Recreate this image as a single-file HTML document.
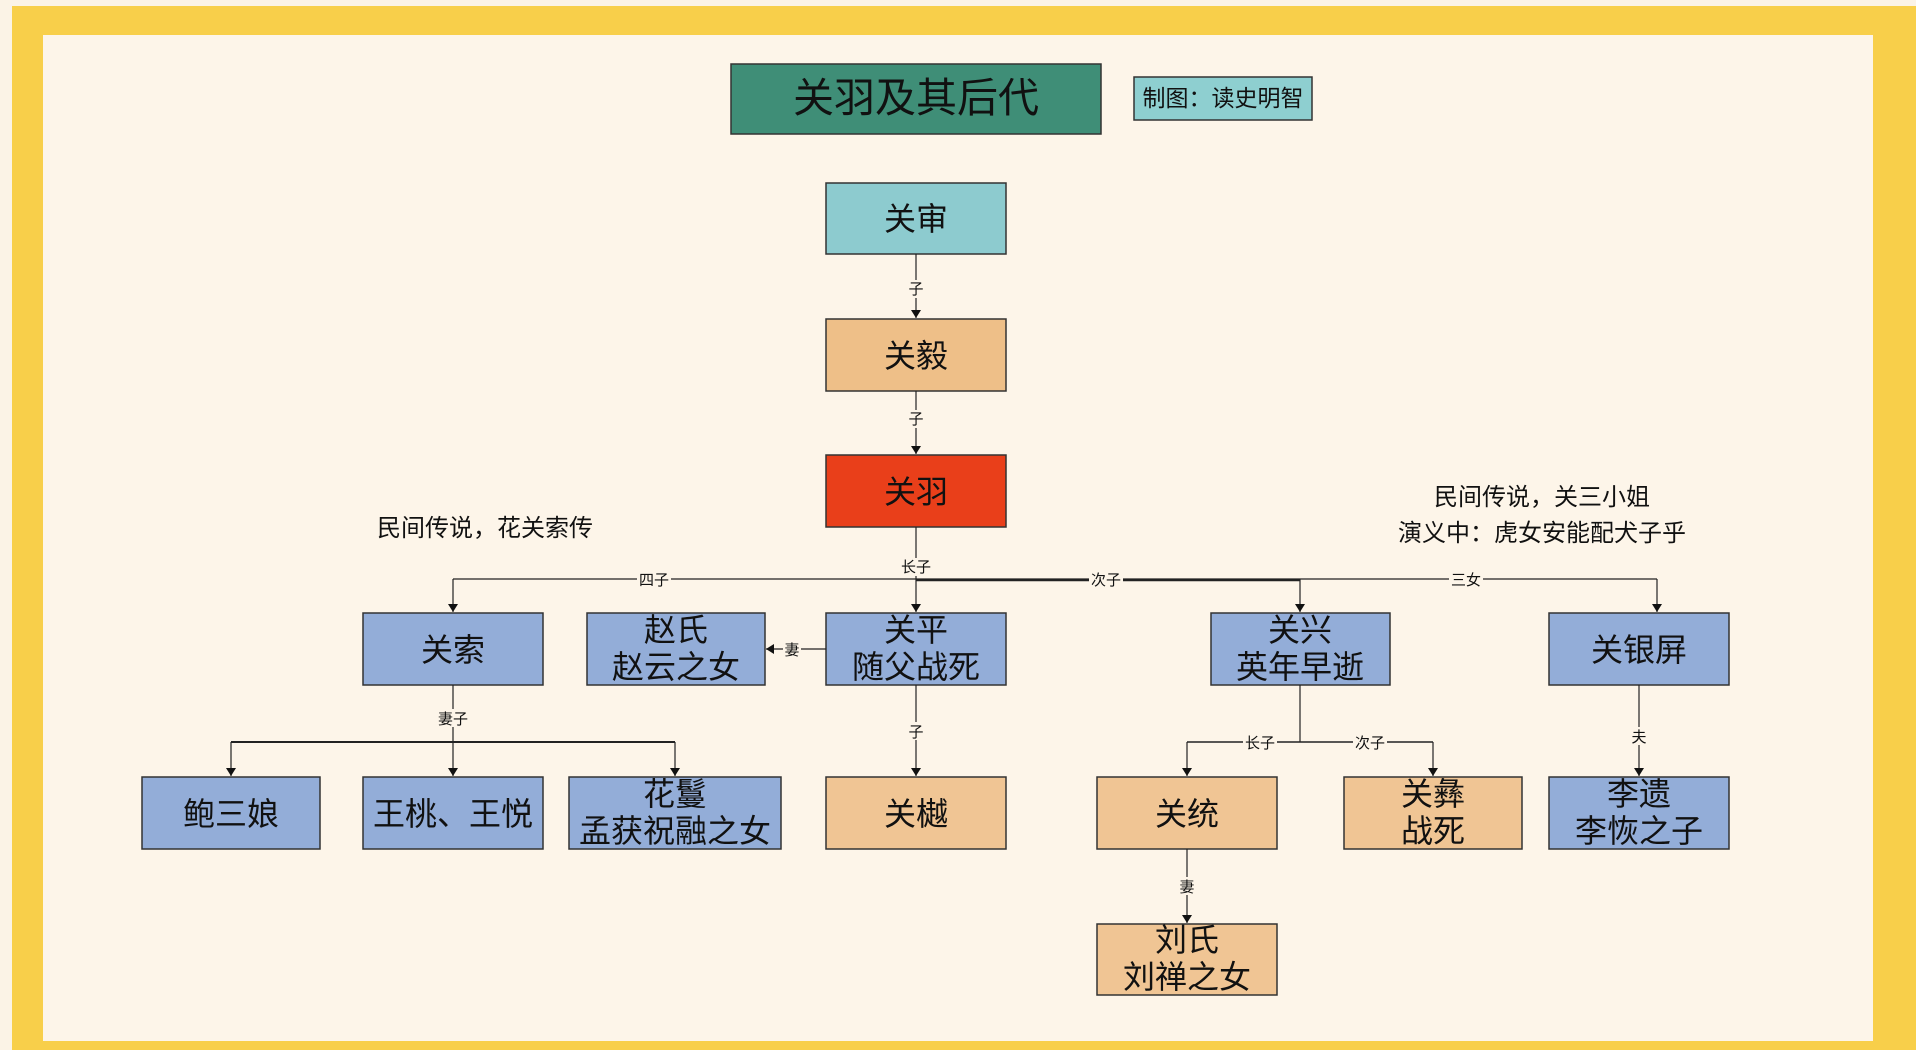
<!DOCTYPE html>
<html><head><meta charset="utf-8"><style>
html,body{margin:0;padding:0;background:#FBF3E6;}
svg{display:block;font-family:"Liberation Sans","Noto Sans CJK SC",sans-serif;}
</style></head><body>
<svg width="1916" height="1050" viewBox="0 0 1916 1050" xmlns="http://www.w3.org/2000/svg">
<defs><marker id="a" markerWidth="8" markerHeight="10" refX="8" refY="5" orient="auto" markerUnits="userSpaceOnUse"><path d="M0,0 L8,5 L0,10 Z" fill="#111"/></marker></defs>
<rect x="0" y="0" width="1916" height="1050" fill="#F8CF4A"/>
<rect x="0" y="0" width="1916" height="6" fill="#FBF3E6"/>
<rect x="0" y="0" width="12" height="1050" fill="#FBF3E6"/>
<rect x="43" y="35" width="1830" height="1006" fill="#FDF5E9"/>
<g stroke="#333" stroke-width="1.5">
<rect x="731" y="64" width="370" height="70" fill="#3F8E77"/>
<rect x="1134" y="77" width="178" height="43" fill="#8ECFD0"/>
<rect x="826" y="183" width="180" height="71" fill="#8DCBCF"/>
<rect x="826" y="319" width="180" height="72" fill="#EEBF88"/>
<rect x="826" y="455" width="180" height="72" fill="#E93F1A"/>
<g fill="#93ADD8">
<rect x="363" y="613" width="180" height="72"/><rect x="587" y="613" width="178" height="72"/>
<rect x="826" y="613" width="180" height="72"/><rect x="1211" y="613" width="179" height="72"/>
<rect x="1549" y="613" width="180" height="72"/>
<rect x="142" y="777" width="178" height="72"/><rect x="363" y="777" width="180" height="72"/>
<rect x="569" y="777" width="212" height="72"/><rect x="1549" y="777" width="180" height="72"/>
</g>
<g fill="#F0C594">
<rect x="826" y="777" width="180" height="72"/><rect x="1097" y="777" width="180" height="72"/>
<rect x="1344" y="777" width="178" height="72"/><rect x="1097" y="924" width="180" height="71"/>
</g>
</g>
<g stroke="#222" stroke-width="1.2" fill="none">
<line x1="916" y1="254" x2="916" y2="318" marker-end="url(#a)"/>
<line x1="916" y1="391" x2="916" y2="454" marker-end="url(#a)"/>
<line x1="916" y1="527" x2="916" y2="612" marker-end="url(#a)"/>
<line x1="453" y1="579" x2="1657" y2="579"/>
<line x1="916" y1="580" x2="1300" y2="580" stroke-width="2.5"/>
<line x1="453" y1="579" x2="453" y2="612" marker-end="url(#a)"/>
<line x1="1300" y1="579" x2="1300" y2="612" marker-end="url(#a)"/>
<line x1="1657" y1="579" x2="1657" y2="612" marker-end="url(#a)"/>
<line x1="826" y1="649" x2="766" y2="649" marker-end="url(#a)"/>
<line x1="453" y1="685" x2="453" y2="776" marker-end="url(#a)"/>
<line x1="231" y1="742" x2="675" y2="742" stroke-width="2"/>
<line x1="231" y1="742" x2="231" y2="776" marker-end="url(#a)"/>
<line x1="675" y1="742" x2="675" y2="776" marker-end="url(#a)"/>
<line x1="916" y1="685" x2="916" y2="776" marker-end="url(#a)"/>
<line x1="1300" y1="685" x2="1300" y2="742"/>
<line x1="1187" y1="742" x2="1433" y2="742" stroke-width="1.5"/>
<line x1="1187" y1="742" x2="1187" y2="776" marker-end="url(#a)"/>
<line x1="1433" y1="742" x2="1433" y2="776" marker-end="url(#a)"/>
<line x1="1639" y1="685" x2="1639" y2="776" marker-end="url(#a)"/>
<line x1="1187" y1="849" x2="1187" y2="923" marker-end="url(#a)"/>
</g>
<g font-size="15" fill="#111" text-anchor="middle">
<g fill="#FDF5E9" stroke="none">
<rect x="906" y="280" width="20" height="18"/><rect x="906" y="410" width="20" height="18"/>
<rect x="899" y="558" width="34" height="18"/><rect x="637" y="570" width="34" height="18"/>
<rect x="1089" y="570" width="34" height="18"/><rect x="1449" y="570" width="34" height="18"/>
<rect x="783" y="640" width="18" height="18"/><rect x="436" y="709" width="34" height="18"/>
<rect x="906" y="722" width="20" height="18"/><rect x="1243" y="733" width="34" height="18"/>
<rect x="1353" y="733" width="34" height="18"/><rect x="1630" y="727" width="18" height="18"/>
<rect x="1178" y="877" width="18" height="18"/>
</g>
<text x="916" y="294">子</text><text x="916" y="424">子</text>
<text x="916" y="572">长子</text><text x="654" y="585">四子</text>
<text x="1106" y="585">次子</text><text x="1466" y="585">三女</text>
<text x="792" y="655">妻</text><text x="453" y="724">妻子</text>
<text x="916" y="737">子</text><text x="1260" y="748">长子</text>
<text x="1370" y="748">次子</text><text x="1639" y="742">夫</text>
<text x="1187" y="892">妻</text>
</g>
<g fill="#111" text-anchor="middle" font-size="32">
<text x="916" y="112" font-size="41">关羽及其后代</text>
<text x="1223" y="106" font-size="23">制图：读史明智</text>
<text x="916" y="230">关审</text><text x="916" y="367">关毅</text>
<text x="916" y="503">关羽</text>
<text x="453" y="661">关索</text>
<text x="676" y="641">赵氏</text><text x="676" y="678">赵云之女</text>
<text x="916" y="641">关平</text><text x="916" y="678">随父战死</text>
<text x="1300" y="641">关兴</text><text x="1300" y="678">英年早逝</text>
<text x="1639" y="661">关银屏</text>
<text x="231" y="825">鲍三娘</text><text x="453" y="825">王桃、王悦</text>
<text x="675" y="805">花鬘</text><text x="675" y="842">孟获祝融之女</text>
<text x="916" y="825">关樾</text><text x="1187" y="825">关统</text>
<text x="1433" y="805">关彝</text><text x="1433" y="842">战死</text>
<text x="1639" y="805">李遗</text><text x="1639" y="842">李恢之子</text>
<text x="1187" y="951">刘氏</text><text x="1187" y="988">刘禅之女</text>
<g font-size="24">
<text x="485" y="536">民间传说，花关索传</text>
<text x="1542" y="505">民间传说，关三小姐</text>
<text x="1542" y="541">演义中：虎女安能配犬子乎</text>
</g>
</g>
</svg>
</body></html>
